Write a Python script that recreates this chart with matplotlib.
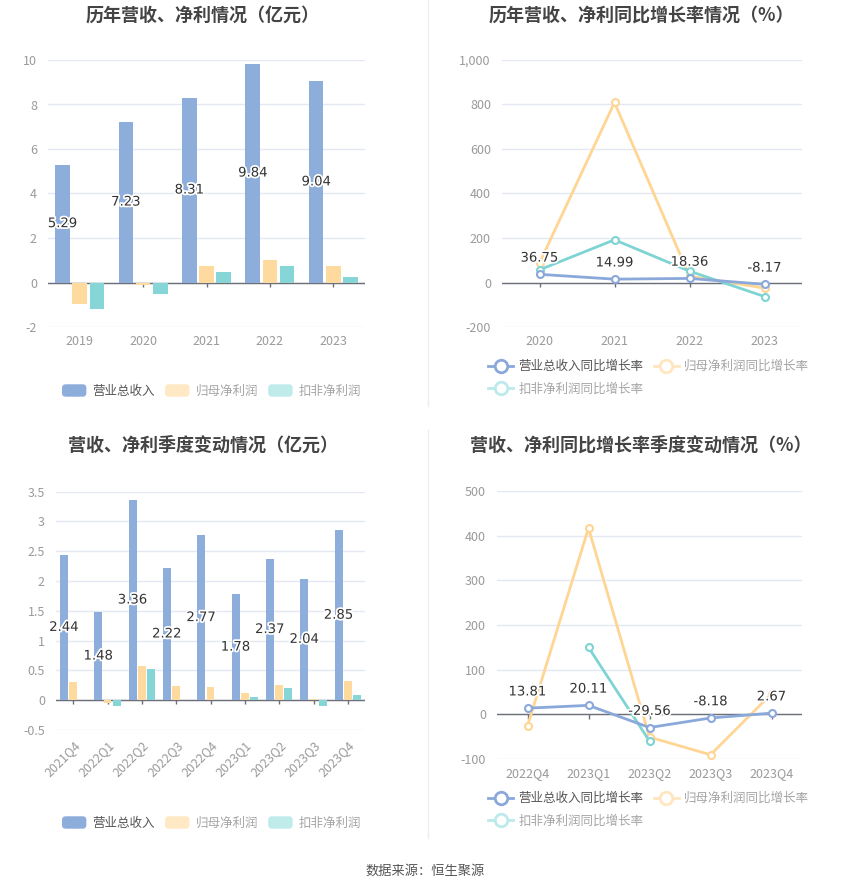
import numpy as np
import matplotlib
matplotlib.use("Agg")
import matplotlib.pyplot as plt
import matplotlib.patheffects as pe
from matplotlib.patches import Patch, FancyBboxPatch
from matplotlib.lines import Line2D
from matplotlib.legend_handler import HandlerPatch
from matplotlib.ticker import FuncFormatter, MultipleLocator

plt.rcParams['font.family'] = ['Noto Sans CJK SC', 'DejaVu Sans']
plt.rcParams['axes.unicode_minus'] = False

# ---------------- data ----------------
years = ['2019', '2020', '2021', '2022', '2023']
rev_year = [5.29, 7.23, 8.31, 9.84, 9.04]
np_year = [-0.95, -0.10, 0.75, 0.99, 0.72]
dnp_year = [-1.18, -0.51, 0.45, 0.72, 0.26]

g_years = ['2020', '2021', '2022', '2023']
rev_g_year = [36.75, 14.99, 18.36, -8.17]
np_g_year = [88.0, 809.0, 28.0, -25.0]
dnp_g_year = [57.0, 192.0, 51.0, -63.0]

quarters = ['2021Q4', '2022Q1', '2022Q2', '2022Q3', '2022Q4',
            '2023Q1', '2023Q2', '2023Q3', '2023Q4']
rev_q = [2.44, 1.48, 3.36, 2.22, 2.77, 1.78, 2.37, 2.04, 2.85]
np_q = [0.30, -0.04, 0.565, 0.23, 0.22, 0.12, 0.26, 0.015, 0.32]
dnp_q = [np.nan, -0.09, 0.52, np.nan, np.nan, 0.05, 0.21, -0.09, 0.09]

g_quarters = ['2022Q4', '2023Q1', '2023Q2', '2023Q3', '2023Q4']
rev_g_q = [13.81, 20.11, -29.56, -8.18, 2.67]
np_g_q = [-26.0, 417.0, -51.0, -90.5, 46.0]
dnp_g_q = [np.nan, 150.0, -60.0, np.nan, np.nan]

bar_names = ['营业总收入', '归母净利润', '扣非净利润']
line_names = ['营业总收入同比增长率', '归母净利润同比增长率', '扣非净利润同比增长率']
titles = ['历年营收、净利情况（亿元）', '历年营收、净利同比增长率情况（%）',
          '营收、净利季度变动情况（亿元）', '营收、净利同比增长率季度变动情况（%）']
source = '数据来源：恒生聚源'

# ---------------- style ----------------
C_BLUE = '#8DADDB'
C_ORANGE = '#FFDA9E'
C_CYAN = '#86D6D7'
L_BLUE = '#8AA8DA'
L_ORANGE = '#FFD594'
L_CYAN = '#7ED4D4'
LEG_ORANGE = '#FFE8C4'
LEG_CYAN = '#C0EBEB'
GRID = '#E3E8F4'
AXIS = '#6E7079'
TICK_TXT = '#9A9A9A'
TITLE_C = '#444444'

W, H = 850, 891
fig = plt.figure(figsize=(W / 100, H / 100), dpi=100)
fig.patch.set_facecolor('white')


def fx(px):
    return px / W


def fy(py):
    return 1 - py / H


def make_ax(l, t, r, b):
    return fig.add_axes([fx(l), fy(b), fx(r) - fx(l), (b - t) / H])


label_fx = [pe.withStroke(linewidth=2.5, foreground='white')]


def style_axes(ax, n, ylim, step, fmt):
    ax.set_xlim(-0.5, n - 0.5)
    ax.set_ylim(*ylim)
    ax.yaxis.set_major_locator(MultipleLocator(step))
    ax.yaxis.set_major_formatter(FuncFormatter(fmt))
    for s in ax.spines.values():
        s.set_visible(False)
    ax.grid(axis='y', color=GRID, linewidth=1, zorder=0)
    ax.set_axisbelow(True)
    ax.tick_params(axis='y', length=0, colors=TICK_TXT, labelsize=9, pad=8)
    ax.tick_params(axis='x', length=0, colors=TICK_TXT, labelsize=9, pad=6)
    ax.axhline(0, color=AXIS, linewidth=1, zorder=2)
    # small category ticks below zero line
    span = ylim[1] - ylim[0]
    ax.vlines(np.arange(n), -span * 0.018, 0, color=AXIS, linewidth=1, zorder=1.5)


def bar_chart(ax, cats, s1, s2, s3, ylim, step, fmt):
    n = len(cats)
    x = np.arange(n)
    w = 0.23
    off = 0.27
    ax.bar(x - off, s1, w, color=C_BLUE, zorder=3)
    ax.bar(x, s2, w, color=C_ORANGE, zorder=3)
    s3 = np.asarray(s3, dtype=float)
    ax.bar(x + off, np.where(np.isnan(s3), 0.0, s3), w, color=C_CYAN, zorder=3)
    for xi, v in zip(x, s1):
        ax.text(xi - off, v / 2, f'{v:.2f}', ha='center', va='center', fontsize=9.5,
                color='#333333', path_effects=label_fx, zorder=5,
                family=['DejaVu Sans'])
    style_axes(ax, n, ylim, step, fmt)
    ax.set_xticks(x)
    ax.set_xticklabels(cats)


def line_chart(ax, cats, s1, s2, s3, ylim, step, fmt):
    n = len(cats)
    x = np.arange(n)
    for s, c, z in [(s2, L_ORANGE, 3), (s3, L_CYAN, 3.5), (s1, L_BLUE, 4)]:
        ax.plot(x, s, color=c, linewidth=2, marker='o', markersize=5,
                markerfacecolor='white', markeredgecolor=c, markeredgewidth=1.5,
                zorder=z)
    for xi, v in zip(x, s1):
        ax.annotate(f'{v:.2f}', (xi, v), xytext=(0, 7), textcoords='offset points',
                    ha='center', va='bottom', fontsize=9.5, color='#333333',
                    path_effects=label_fx, zorder=6, family=['DejaVu Sans'])
    style_axes(ax, n, ylim, step, fmt)
    ax.set_xticks(x)
    ax.set_xticklabels(cats)


def gfmt(v, p):
    return f'{v:g}'


def cfmt(v, p):
    return f'{v:,.0f}'


class RoundHandler(HandlerPatch):
    def create_artists(self, legend, orig_handle, xdescent, ydescent, width,
                       height, fontsize, trans):
        p = FancyBboxPatch((-xdescent, -ydescent), width, height,
                           boxstyle=f'round,pad=0,rounding_size={height * 0.3}',
                           facecolor=orig_handle.get_facecolor(), edgecolor='none',
                           transform=trans)
        return [p]


def bar_legend(x_px, y_px):
    hs = [Patch(color=C_BLUE), Patch(color=LEG_ORANGE), Patch(color=LEG_CYAN)]
    leg = fig.legend(hs, bar_names, loc='center left',
                     bbox_to_anchor=(fx(x_px), fy(y_px)), ncol=3, frameon=False,
                     fontsize=9, handlelength=1.95, handleheight=1.15,
                     handletextpad=0.5, columnspacing=0.8, borderpad=0,
                     borderaxespad=0, handler_map={Patch: RoundHandler()})
    for t, c in zip(leg.get_texts(), ['#555555', '#A5A5A5', '#A5A5A5']):
        t.set_color(c)


def line_legend(x_px, y_px):
    cols = [L_BLUE, '#FFE6C0', '#BCEAEA']
    hs = [Line2D([], [], color=c, linewidth=2, marker='o', markersize=9,
                 markerfacecolor='white', markeredgecolor=c, markeredgewidth=2)
          for c in cols]
    order = [0, 2, 1]  # column-major fill -> row-major appearance
    leg = fig.legend([hs[i] for i in order], [line_names[i] for i in order],
                     loc='upper left',
                     bbox_to_anchor=(fx(x_px), fy(y_px)), ncol=2, frameon=False,
                     fontsize=9, handlelength=2.0, handletextpad=0.45,
                     columnspacing=0.8, labelspacing=0.75, borderpad=0,
                     borderaxespad=0)
    txt_cols = ['#555555', '#A5A5A5', '#A5A5A5']
    for t, i in zip(leg.get_texts(), order):
        t.set_color(txt_cols[i])


# ---------------- panels ----------------
ax1 = make_ax(48, 60, 365, 327)
bar_chart(ax1, years, rev_year, np_year, dnp_year, (-2, 10), 2, gfmt)

ax2 = make_ax(502, 60, 802, 327)
line_chart(ax2, g_years, rev_g_year, np_g_year, dnp_g_year, (-200, 1000), 200, cfmt)

ax3 = make_ax(56, 491.5, 365, 730)
bar_chart(ax3, quarters, rev_q, np_q, dnp_q, (-0.5, 3.5), 0.5, gfmt)
for lab in ax3.get_xticklabels():
    lab.set_rotation(45)
    lab.set_ha('right')
    lab.set_rotation_mode('anchor')

ax4 = make_ax(497, 491, 802, 759)
line_chart(ax4, g_quarters, rev_g_q, np_g_q, dnp_g_q, (-100, 500), 100, gfmt)

# titles
for (xc, yc), t in zip([(203, 15), (641, 15), (203, 445), (641, 445)], titles):
    fig.text(fx(xc), fy(yc), t, ha='center', va='center', fontsize=13,
             fontweight='bold', color=TITLE_C)

# legends
bar_legend(62, 391)
line_legend(488, 360)
bar_legend(62, 823)
line_legend(488, 792)

# divider lines
fig.add_artist(Line2D([fx(428), fx(428)], [fy(0), fy(406)], color='#EEEEEE', linewidth=1))
fig.add_artist(Line2D([fx(428), fx(428)], [fy(430), fy(838)], color='#EEEEEE', linewidth=1))

fig.text(0.5, fy(871), source, ha='center', va='center', fontsize=9.5, color='#555555')

fig.savefig('out.png', dpi=100, facecolor='white')
